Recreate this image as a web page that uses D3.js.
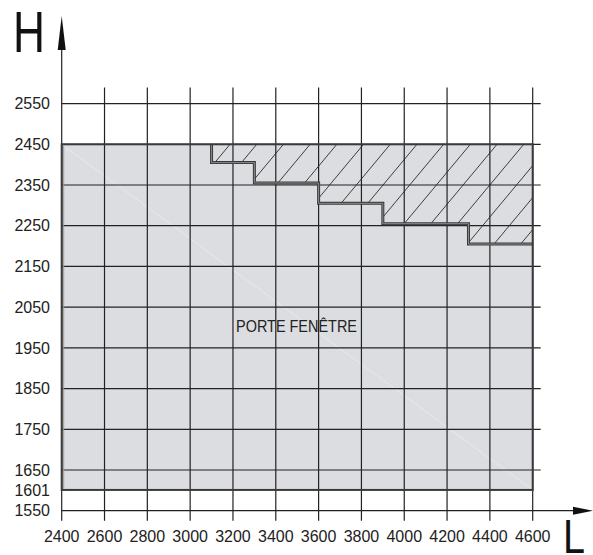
<!DOCTYPE html>
<html><head><meta charset="utf-8">
<script src="https://cdn.jsdelivr.net/npm/d3@7"></script>
<style>html,body{margin:0;padding:0;background:#fff;}svg{display:block;}</style>
</head><body>
<svg id="chart" width="593" height="555"></svg>
<script>
// ---- data ----
const xTicks = [2400, 2600, 2800, 3000, 3200, 3400, 3600, 3800, 4000, 4200, 4400, 4600];
const yTicks = [1550, 1650, 1750, 1850, 1950, 2050, 2150, 2250, 2350, 2450, 2550];
const yExtraTicks = [1601];
const doorL = [2400, 4600];
const doorH = [1601, 2450];
const stepL = [3100, 3300, 3600, 3900, 4300, 4600];
const stepH = [2405, 2355, 2305, 2255, 2205];
const areaLabel = "PORTE FENÊTRE";
const axisNameY = "H";
const axisNameX = "L";

// ---- layout ----
const svg = d3.select("#chart");
const x = d3.scaleLinear().domain([2400, 4600]).range([61.7, 532.7]);
const y = d3.scaleLinear().domain([1550, 2450]).range([510.7, 144.3]);
const font = "'Liberation Sans', Arial, sans-serif";
const ink = "#222";

// door rectangle fill
svg.append("rect")
  .attr("x", x(doorL[0])).attr("y", y(doorH[1]))
  .attr("width", x(doorL[1]) - x(doorL[0]))
  .attr("height", y(doorH[0]) - y(doorH[1]))
  .attr("fill", "#dcdde0");

// seam artefact
svg.append("line")
  .attr("x1", x(doorL[0])).attr("y1", y(doorH[1]))
  .attr("x2", x(doorL[1])).attr("y2", y(doorH[0]))
  .attr("stroke", "#ececee").attr("stroke-width", 0.8);

// staircase polygon (hatched region)
const poly = [[stepL[0], doorH[1]]];
stepH.forEach((h, i) => { poly.push([stepL[i], h]); poly.push([stepL[i + 1], h]); });
poly.push([stepL[stepL.length - 1], doorH[1]]);
const polyPx = poly.map(p => [x(p[0]), y(p[1])]);
const line = d3.line();

svg.append("clipPath").attr("id", "hclip")
  .append("path").attr("d", line(polyPx) + "Z");

const hatch = svg.append("g").attr("clip-path", "url(#hclip)");
const slope = 1.2, spacing = 26.7, x0 = 231.7;
const yTop = y(doorH[1]), yBot = y(d3.min(stepH)) + 5;
for (let k = -6; k < 16; k++) {
  const xt = x0 + k * spacing;
  hatch.append("line")
    .attr("x1", xt).attr("y1", yTop - 2)
    .attr("x2", xt - (yBot - yTop + 2) / slope).attr("y2", yBot)
    .attr("stroke", "#2a2a2a").attr("stroke-width", 0.9);
}

// grid
const gTop = y(2550) - 16, gBot = y(1550) + 10;
svg.append("g").selectAll("line").data(xTicks).join("line")
  .attr("x1", d => x(d)).attr("x2", d => x(d))
  .attr("y1", (d, i) => i === 0 ? 50 : gTop).attr("y2", gBot)
  .attr("stroke", ink).attr("stroke-width", 1.2);
svg.append("g").selectAll("line").data(yTicks.filter(d => d !== 1550)).join("line")
  .attr("x1", x(2400)).attr("x2", x(4600) + 8)
  .attr("y1", d => y(d)).attr("y2", d => y(d))
  .attr("stroke", ink).attr("stroke-width", 1.2);

// x axis with arrow
svg.append("line")
  .attr("x1", x(2400)).attr("x2", 575)
  .attr("y1", y(1550)).attr("y2", y(1550))
  .attr("stroke", ink).attr("stroke-width", 1.3);
svg.append("path")
  .attr("d", `M573,${y(1550) - 4}L593,${y(1550)}L573,${y(1550) + 4}Z`)
  .attr("fill", "#111");
// y axis arrow
svg.append("path")
  .attr("d", `M${x(2400) - 4},50L${x(2400)},16L${x(2400) + 4},50Z`)
  .attr("fill", "#111");

// staircase outline
const stairPts = polyPx.slice(0, polyPx.length - 1);
svg.append("path").attr("d", line(stairPts))
  .attr("fill", "none").attr("stroke", "#3a3a3a").attr("stroke-width", 3);
svg.append("path").attr("d", line(stairPts))
  .attr("fill", "none").attr("stroke", "#8c8c8c").attr("stroke-width", 1);

// door border
svg.append("rect")
  .attr("x", x(doorL[0])).attr("y", y(doorH[1]))
  .attr("width", x(doorL[1]) - x(doorL[0]))
  .attr("height", y(doorH[0]) - y(doorH[1]))
  .attr("fill", "none").attr("stroke", "#3a3a3a").attr("stroke-width", 2);
svg.append("line")
  .attr("x1", x(doorL[0]) + 2).attr("x2", x(doorL[0]) + 2)
  .attr("y1", y(doorH[1]) + 1).attr("y2", y(doorH[0]) - 1)
  .attr("stroke", "#999").attr("stroke-width", 1);

// tick labels
svg.append("g").selectAll("text").data(yTicks.concat(yExtraTicks)).join("text")
  .attr("x", 50).attr("y", d => y(d)).attr("dy", "0.36em")
  .attr("text-anchor", "end").attr("font-family", font).attr("font-size", 16)
  .attr("fill", ink).text(d => d);
svg.append("g").selectAll("text").data(xTicks).join("text")
  .attr("x", d => x(d)).attr("y", 541.7)
  .attr("text-anchor", "middle").attr("font-family", font).attr("font-size", 16)
  .attr("fill", ink).text(d => d);

// area label
svg.append("text")
  .attr("x", 236).attr("y", 332.3)
  .attr("font-family", font).attr("font-size", 16.5)
  .attr("textLength", 121).attr("lengthAdjust", "spacingAndGlyphs")
  .attr("fill", ink).text(areaLabel);

// axis names
svg.append("text")
  .attr("x", 13).attr("y", 51.7)
  .attr("font-family", font).attr("font-size", 58)
  .attr("textLength", 32).attr("lengthAdjust", "spacingAndGlyphs")
  .attr("fill", "#111").text(axisNameY);
svg.append("text")
  .attr("x", 563).attr("y", 553.3)
  .attr("font-family", font).attr("font-size", 49)
  .attr("textLength", 22).attr("lengthAdjust", "spacingAndGlyphs")
  .attr("fill", "#111").text(axisNameX);
</script>
</body></html>
